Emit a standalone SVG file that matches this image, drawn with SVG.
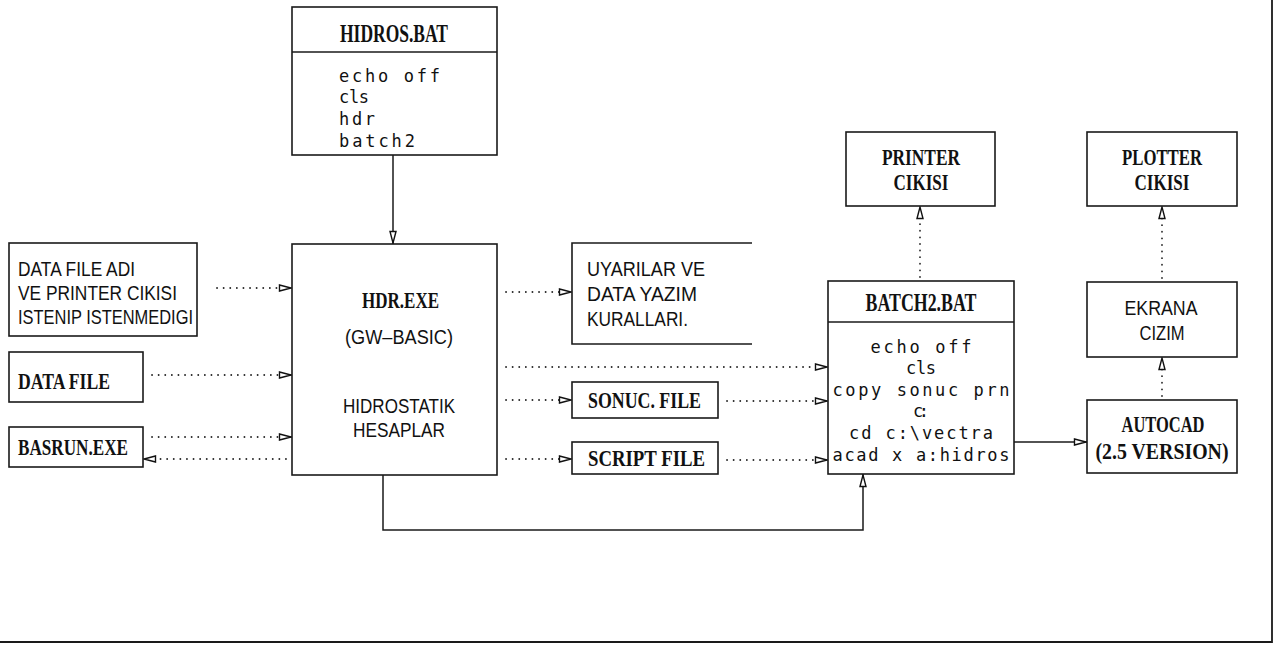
<svg xmlns="http://www.w3.org/2000/svg" width="1275" height="645" viewBox="0 0 1275 645">
<style>
.box{fill:none;stroke:#1a1a1a;stroke-width:1.6}
.frame{fill:none;stroke:#1a1a1a;stroke-width:1.8}
.sol{fill:none;stroke:#1a1a1a;stroke-width:1.5;marker-end:url(#tri)}
.dot{fill:none;stroke:#2a2a2a;stroke-width:1.8;stroke-dasharray:0.1 6.5;stroke-linecap:round;marker-end:url(#tri)}
.serif{font-family:"Liberation Serif","DejaVu Serif",serif;font-weight:bold;font-size:23px;fill:#111}
.big{font-size:25px}
.sans{font-family:"Liberation Sans","DejaVu Sans",sans-serif;font-size:20px;fill:#111}
.mono{font-family:"DejaVu Sans Mono","Liberation Mono",monospace;font-size:17px;fill:#111}
.mid{text-anchor:middle}
</style>
<defs>
<marker id="tri" viewBox="0 0 14 8" refX="14" refY="4" markerWidth="14" markerHeight="8" orient="auto" markerUnits="userSpaceOnUse">
<path d="M1.5,1 L13,4 L1.5,7 Z" fill="#fff" stroke="#111" stroke-width="1.4" stroke-dasharray="none"/>
</marker>
</defs>
<rect width="1275" height="645" fill="#fff"/>
<path class="frame" d="M0,642 H1272 V0"/>

<g id="connectors">
<path class="sol" d="M393,155 V244"/>
<path class="dot" d="M217,288 H292"/>
<path class="dot" d="M152,375 H292"/>
<path class="dot" d="M152,437 H292"/>
<path class="dot" d="M286,459 H143"/>
<path class="dot" d="M506,292 H572"/>
<path class="dot" d="M506,367 H828"/>
<path class="dot" d="M506,400 H572"/>
<path class="dot" d="M506,459 H572"/>
<path class="dot" d="M727,401 H828"/>
<path class="dot" d="M727,460 H828"/>
<path class="sol" d="M383,475 V530 H863 V474"/>
<path class="dot" d="M920,277 V206"/>
<path class="sol" d="M1014,442 H1087"/>
<path class="dot" d="M1162,278 V206"/>
<path class="dot" d="M1162,396 V357"/>
</g>

<g id="hidros">
<rect class="box" x="292" y="7" width="205" height="148"/>
<line class="box" x1="292" y1="52" x2="497" y2="52"/>
<text class="serif big mid" x="394" y="42" textLength="108" lengthAdjust="spacingAndGlyphs">HIDROS.BAT</text>
<text class="mono" x="339" y="82" textLength="101">echo off</text>
<text class="mono" x="339" y="103" textLength="30">cls</text>
<text class="mono" x="339" y="125" textLength="36">hdr</text>
<text class="mono" x="339" y="147" textLength="76">batch2</text>
</g>

<g id="hdr">
<rect class="box" x="292" y="244" width="205" height="231"/>
<text class="serif" x="362" y="308" textLength="77" lengthAdjust="spacingAndGlyphs">HDR.EXE</text>
<text class="sans" x="345" y="344" textLength="108" lengthAdjust="spacingAndGlyphs">(GW–BASIC)</text>
<text class="sans" x="343" y="413" textLength="112" lengthAdjust="spacingAndGlyphs">HIDROSTATIK</text>
<text class="sans" x="353" y="437" textLength="92" lengthAdjust="spacingAndGlyphs">HESAPLAR</text>
</g>

<g id="datafileadi">
<rect class="box" x="9" y="243" width="188" height="93"/>
<text class="sans" x="18" y="276" textLength="117" lengthAdjust="spacingAndGlyphs">DATA FILE ADI</text>
<text class="sans" x="18" y="300" textLength="159" lengthAdjust="spacingAndGlyphs">VE PRINTER CIKISI</text>
<text class="sans" x="18" y="324" textLength="175" lengthAdjust="spacingAndGlyphs">ISTENIP ISTENMEDIGI</text>
</g>

<g id="datafile">
<rect class="box" x="9" y="352" width="134" height="50"/>
<text class="serif" x="18" y="389" textLength="92" lengthAdjust="spacingAndGlyphs">DATA FILE</text>
</g>

<g id="basrun">
<rect class="box" x="9" y="427" width="134" height="40"/>
<text class="serif" x="18" y="455" textLength="110" lengthAdjust="spacingAndGlyphs">BASRUN.EXE</text>
</g>

<g id="uyarilar">
<path class="box" d="M752,243 H572 V344 H752"/>
<text class="sans" x="587" y="276" textLength="118" lengthAdjust="spacingAndGlyphs">UYARILAR VE</text>
<text class="sans" x="587" y="301" textLength="110" lengthAdjust="spacingAndGlyphs">DATA YAZIM</text>
<text class="sans" x="587" y="326" textLength="101" lengthAdjust="spacingAndGlyphs">KURALLARI.</text>
</g>

<g id="sonuc">
<rect class="box" x="572" y="382" width="146" height="36"/>
<text class="serif" x="588" y="408" textLength="113" lengthAdjust="spacingAndGlyphs">SONUC. FILE</text>
</g>

<g id="script">
<rect class="box" x="572" y="442" width="146" height="32"/>
<text class="serif" x="588" y="466" textLength="117" lengthAdjust="spacingAndGlyphs">SCRIPT FILE</text>
</g>

<g id="batch2">
<rect class="box" x="828" y="281" width="186" height="193"/>
<line class="box" x1="828" y1="322" x2="1014" y2="322"/>
<text class="serif big mid" x="921" y="311" textLength="111" lengthAdjust="spacingAndGlyphs">BATCH2.BAT</text>
<text class="mono mid" x="921" y="353" textLength="101">echo off</text>
<text class="mono mid" x="921" y="374" textLength="30">cls</text>
<text class="mono mid" x="921" y="396" textLength="177">copy sonuc prn</text>
<text class="mono mid" x="921" y="417" textLength="16">c:</text>
<text class="mono mid" x="921" y="439" textLength="144">cd c:\vectra</text>
<text class="mono mid" x="921" y="461" textLength="177">acad x a:hidros</text>
</g>

<g id="printer">
<rect class="box" x="846" y="132" width="149" height="74"/>
<text class="serif mid" x="921" y="165" textLength="78" lengthAdjust="spacingAndGlyphs">PRINTER</text>
<text class="serif mid" x="921" y="190" textLength="55" lengthAdjust="spacingAndGlyphs">CIKISI</text>
</g>

<g id="plotter">
<rect class="box" x="1087" y="132" width="150" height="74"/>
<text class="serif mid" x="1162" y="165" textLength="80" lengthAdjust="spacingAndGlyphs">PLOTTER</text>
<text class="serif mid" x="1162" y="190" textLength="55" lengthAdjust="spacingAndGlyphs">CIKISI</text>
</g>

<g id="ekrana">
<rect class="box" x="1087" y="282" width="150" height="75"/>
<text class="sans mid" x="1161" y="315" textLength="73" lengthAdjust="spacingAndGlyphs">EKRANA</text>
<text class="sans mid" x="1162" y="340" textLength="45" lengthAdjust="spacingAndGlyphs">CIZIM</text>
</g>

<g id="autocad">
<rect class="box" x="1087" y="400" width="150" height="73"/>
<text class="serif mid" x="1163" y="432" textLength="83" lengthAdjust="spacingAndGlyphs">AUTOCAD</text>
<text class="serif mid" x="1162" y="459" textLength="133" lengthAdjust="spacingAndGlyphs">(2.5 VERSION)</text>
</g>
</svg>
